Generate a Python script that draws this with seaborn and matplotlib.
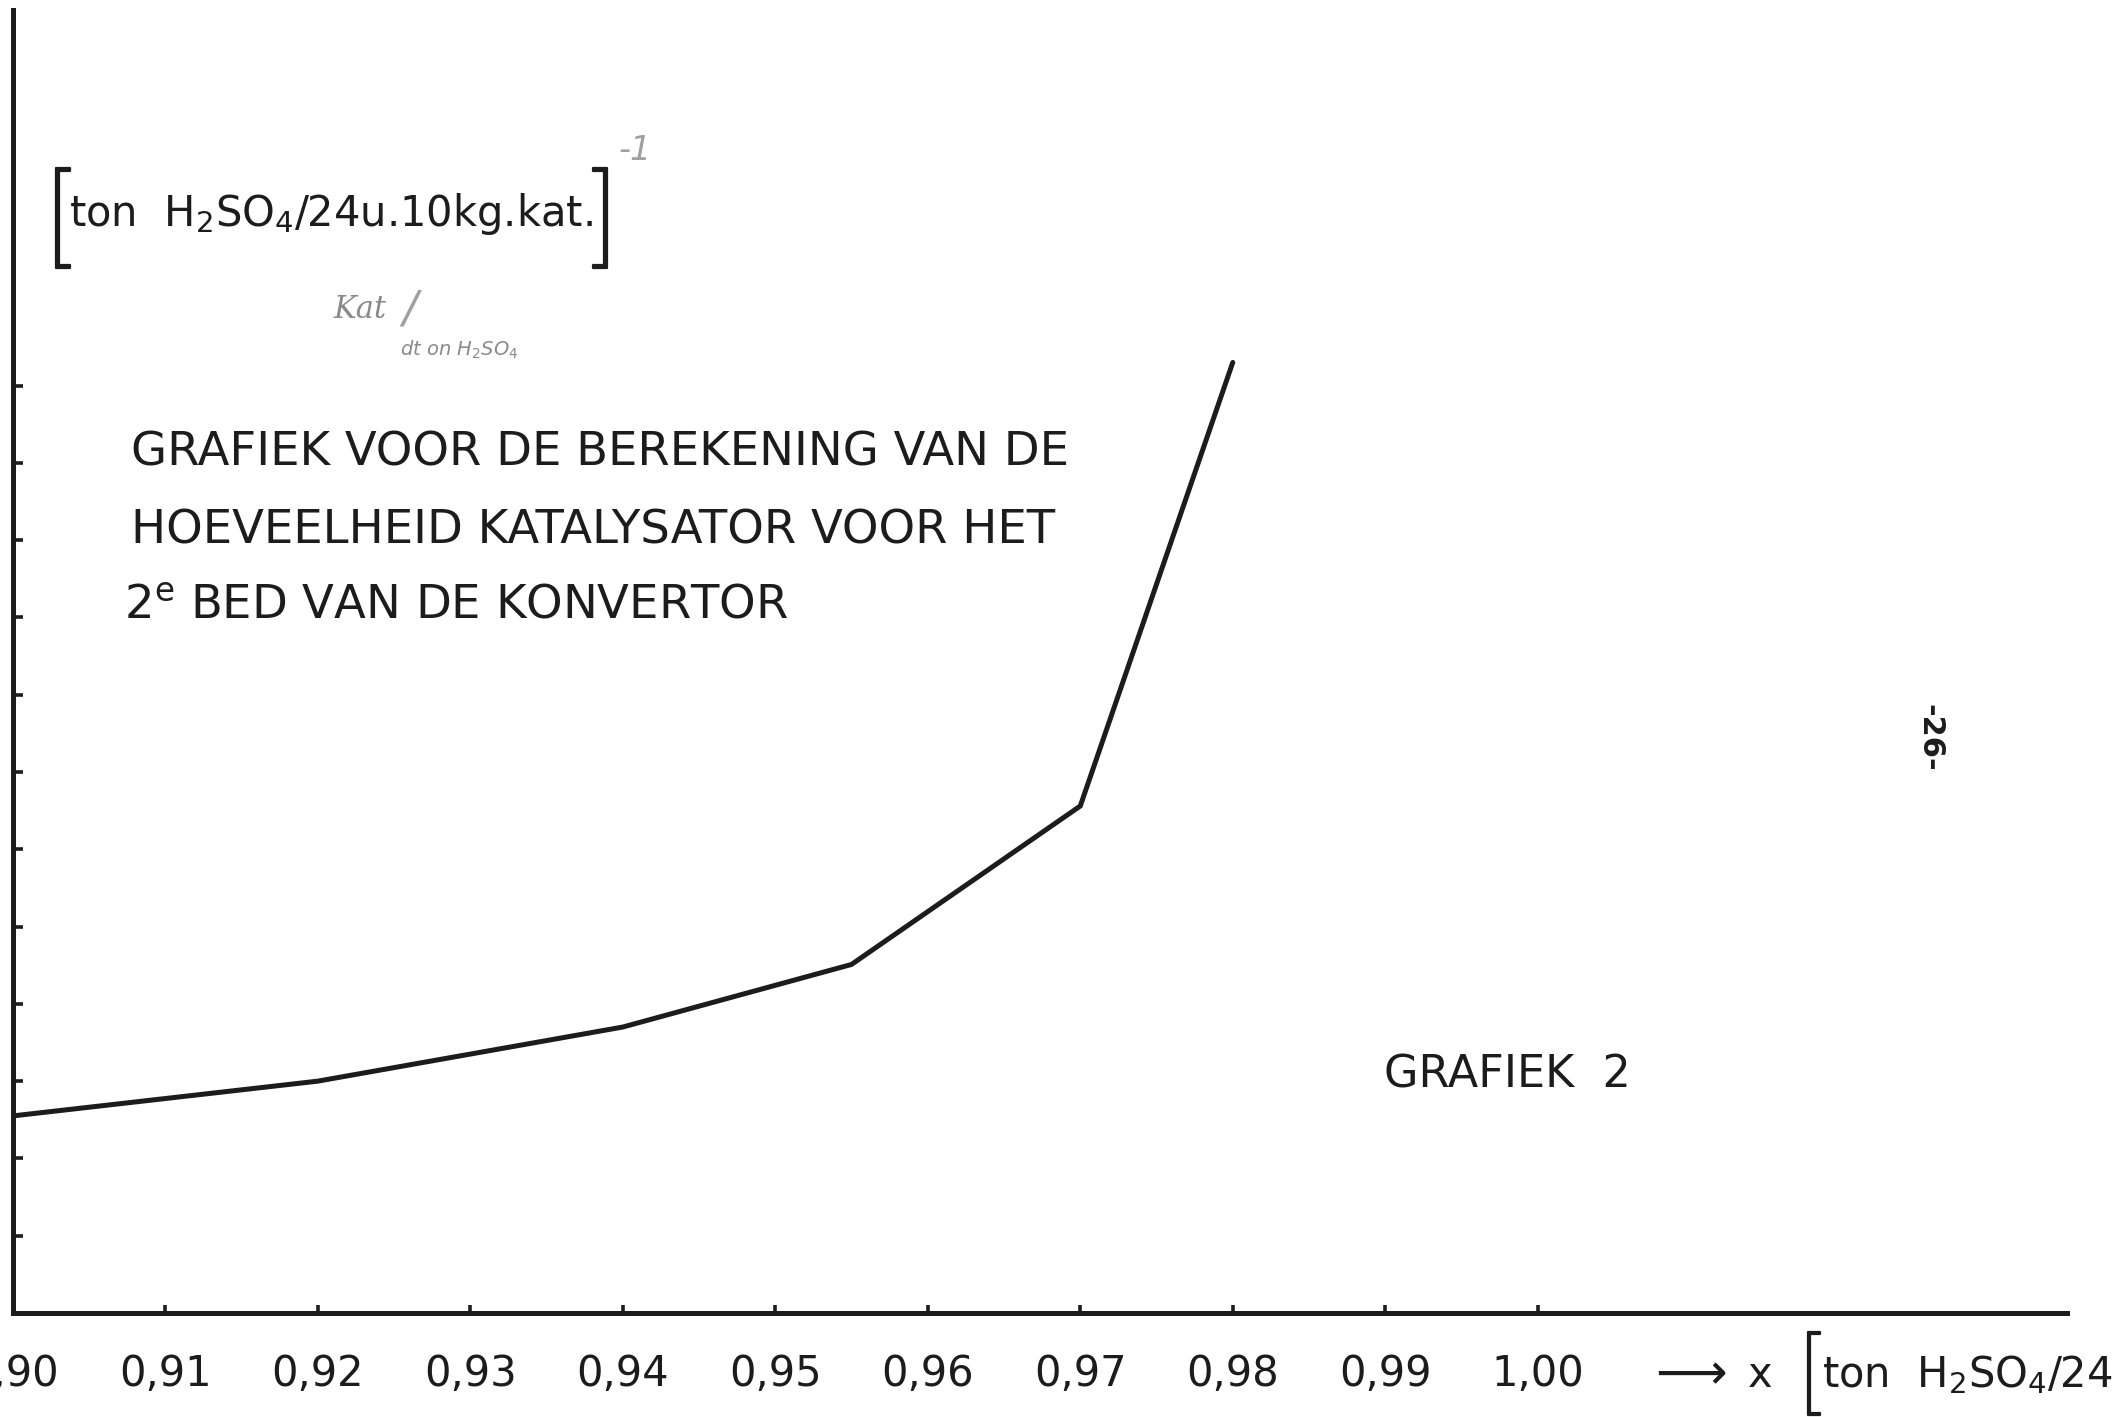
import matplotlib
matplotlib.use("Agg")
import matplotlib.pyplot as plt
import matplotlib.patheffects as pe
import seaborn as sns
import pandas as pd

# Conversion x (ton H2SO4 / 24u) against catalyst demand for bed 2
conversion = [0.90, 0.92, 0.94, 0.955, 0.97, 0.98]
catalyst = [2.55, 3.0, 3.7, 4.51, 6.56, 12.3]

x_ticks = [0.90, 0.91, 0.92, 0.93, 0.94, 0.95, 0.96, 0.97, 0.98, 0.99, 1.00]
x_tick_labels = ["0,90", "0,91", "0,92", "0,93", "0,94", "0,95",
                 "0,96", "0,97", "0,98", "0,99", "1,00"]
y_ticks = [1, 2, 3, 4, 5, 6, 7, 8, 9, 10, 11, 12]

title_lines = ["GRAFIEK VOOR DE BEREKENING VAN DE",
               "HOEVEELHEID KATALYSATOR VOOR HET",
               r"2$^{\mathrm{e}}$ BED VAN DE KONVERTOR"]

sns.set_theme(style="white")
plt.rcParams["font.family"] = ["DejaVu Sans"]
plt.rcParams["mathtext.fontset"] = "dejavusans"

W, H = 2114, 1417
fig = plt.figure(figsize=(W / 100, H / 100), dpi=100)
fig.patch.set_facecolor("white")


def fx(px):
    return px / W


def fy(py):
    return 1 - py / H


ink = "#1c1c1c"
ax = fig.add_axes([fx(12.7), fy(1313), fx(2067 - 12.7), (1313 - 10) / H])
ax.set_facecolor("white")

df = pd.DataFrame({"x": conversion, "y": catalyst})
sns.lineplot(data=df, x="x", y="y", ax=ax, color=ink, linewidth=3.6,
             solid_capstyle="round", solid_joinstyle="miter")

ax.set_xlim(0.90, 1.0347)
ax.set_ylim(0, 16.86)
ax.set_xticks(x_ticks)
ax.set_xticklabels(x_tick_labels)
ax.set_yticks(y_ticks)
ax.set_yticklabels([])
ax.set_xlabel("")
ax.set_ylabel("")

for side in ("top", "right"):
    ax.spines[side].set_visible(False)
for side in ("left", "bottom"):
    ax.spines[side].set_linewidth(3.6)
    ax.spines[side].set_color(ink)

ax.tick_params(axis="x", direction="in", length=6, width=2.6, color=ink,
               pad=29, labelsize=30, labelcolor=ink)
ax.tick_params(axis="y", direction="in", length=7, width=2.6, color=ink,
               left=True)
ax.tick_params(axis="x", bottom=True)

# tall square brackets: light glyph, thickened a little
bracket_fx = [pe.withStroke(linewidth=1.6, foreground=ink)]

# unit of the x axis, running off the right edge of the sheet
fig.text(fx(1646), fy(1387), r"$\longrightarrow$", fontsize=36, color=ink,
         ha="left", va="baseline")
fig.text(fx(1748), fy(1387), "x", fontsize=30, color=ink,
         ha="left", va="baseline")
fig.text(fx(1800), fy(1402), "[", fontsize=62, color=ink, ha="left",
         va="baseline", family="Roboto", fontweight="light",
         path_effects=bracket_fx)
fig.text(fx(1822), fy(1387), r"ton  H$_2$SO$_4$/24u.10kg.kat.]",
         fontsize=30, color=ink, ha="left", va="baseline")

# unit of the y axis
fig.text(fx(47), fy(252), "[", fontsize=74, color=ink, ha="left",
         va="baseline", family="Roboto", fontweight="light",
         path_effects=bracket_fx)
fig.text(fx(69), fy(226), r"ton  H$_2$SO$_4$/24u.10kg.kat.", fontsize=30,
         color=ink, ha="left", va="baseline")
fig.text(fx(593), fy(252), "]", fontsize=74, color=ink, ha="left",
         va="baseline", family="Roboto", fontweight="light",
         path_effects=bracket_fx)

# pencil notes
pencil = "#8a8a8a"
fig.text(fx(618), fy(160), "-1", fontsize=24, color="#a0a0a0", ha="left",
         va="baseline", style="italic")
fig.text(fx(333), fy(318), "Kat", fontsize=22, color=pencil, ha="left",
         va="baseline", style="italic", family="DejaVu Serif")
fig.text(fx(402), fy(322), "/", fontsize=32, color="#a0a0a0", ha="left",
         va="baseline", style="italic")
fig.text(fx(400), fy(356), r"dt on H$_2$SO$_4$", fontsize=14, color=pencil,
         ha="left", va="baseline", style="italic")

# heading block
baselines = [465, 543, 619]
lefts = [131, 131, 124]
for line, base, left in zip(title_lines, baselines, lefts):
    fig.text(fx(left), fy(base), line, fontsize=33.5, color=ink, ha="left",
             va="baseline")

fig.text(fx(1384), fy(1087), "GRAFIEK  2", fontsize=32, color=ink,
         ha="left", va="baseline")

# page number
fig.text(fx(1930), fy(738), "-26-", fontsize=22, color=ink, rotation=-90,
         ha="center", va="center", fontweight="bold")

fig.savefig("out.png", dpi=100, facecolor="white")
